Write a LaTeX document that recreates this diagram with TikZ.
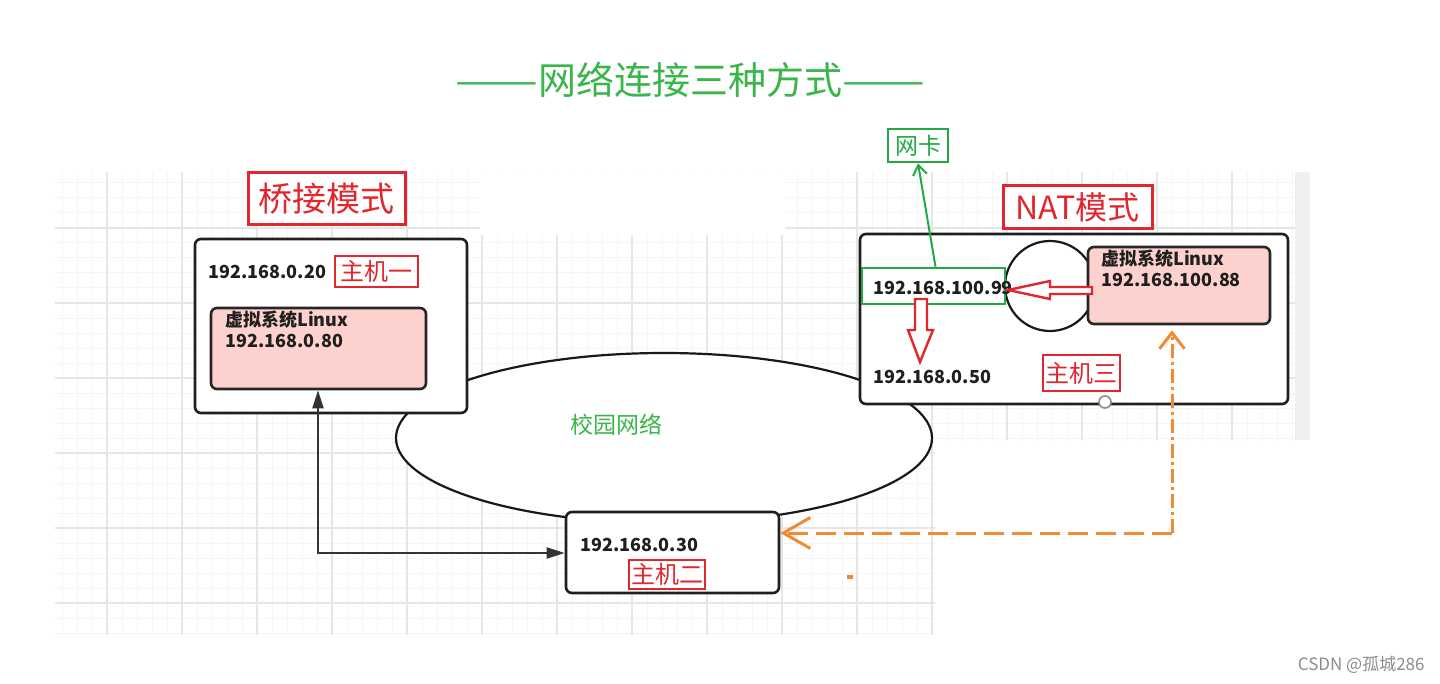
\documentclass[tikz,border=0pt]{standalone}
\usepackage{fontspec}
\setmainfont{Noto Sans CJK SC}
\usetikzlibrary{arrows.meta,shapes.geometric,calc}
\definecolor{tgreen}{HTML}{3AB54A}
\definecolor{bgreen}{HTML}{22A845}
\definecolor{lred}{HTML}{E3262E}
\definecolor{pinkfill}{HTML}{FDD2CE}
\definecolor{orng}{HTML}{F28A33}
\definecolor{gminor}{HTML}{F5F5F5}
\definecolor{gmajor}{HTML}{E6E6E6}
\begin{document}
\begin{tikzpicture}[x=0.5pt,y=-0.5pt,
  redlabel/.style={draw=lred,line width=1pt,text=lred,inner sep=0pt,fill=white,font=\fontsize{12pt}{12pt}\selectfont},
  bigred/.style={draw=lred,line width=1.5pt,text=lred,inner sep=0pt,fill=white},
  greenlabel/.style={draw=bgreen,line width=1.3pt,inner sep=0pt,fill=white},
  hostbox/.style={draw=black!88,line width=1.3pt,rounded corners=3pt,fill=white,inner sep=0pt},
  vmbox/.style={draw=black!85,line width=1.3pt,rounded corners=3pt,fill=pinkfill,inner sep=0pt},
  iptext/.style={font=\bfseries\fontsize{9pt}{10.5pt}\selectfont,text=black!88,inner sep=0pt,anchor=west},
  blackconn/.style={draw=black!80,line width=1pt,{Triangle[length=9pt,width=5.5pt]}-{Triangle[length=9pt,width=5.5pt]}},
  orangeline/.style={draw=orng,line width=1.5pt},
  hollowarrow/.style={draw=lred,line width=1.2pt,fill=white,line join=miter}
]
\useasboundingbox (0,0) rectangle (1440,684);
\fill[white] (0,0) rectangle (1440,684);

% background grid
\begin{scope}
  \clip (55,172) rectangle (935,635) (935,172) rectangle (1295,440);
  \foreach \x in {62,77,...,1292} \draw[gminor,line width=0.5pt] (\x,172) -- (\x,635);
  \foreach \y in {183,198,...,633} \draw[gminor,line width=0.5pt] (55,\y) -- (1295,\y);
  \foreach \x in {107,182,...,1232} \draw[gmajor,line width=0.6pt] (\x,172) -- (\x,635);
  \foreach \y in {228,303,...,603} \draw[gmajor,line width=0.6pt] (55,\y) -- (1295,\y);
\end{scope}
\fill[white] (480,172) rectangle (785,235);
\fill[black!6] (1295,172) rectangle (1310,440);

% title
\node[text=tgreen,font=\fontsize{19pt}{22pt}\selectfont] (title) at (690,80) {\scalebox{1.3}[1]{——}网络连接三种方式\scalebox{1.3}[1]{——}};

% campus network
\node[ellipse,draw=black!90,line width=1.1pt,fill=white,minimum width=268pt,minimum height=85pt,inner sep=0pt] (campus) at (664,438) {};
\node[text=tgreen,font=\fontsize{11.5pt}{13pt}\selectfont,inner sep=0pt] (campuslbl) at (616,425) {校园网络};

% bridge mode
\node[bigred,minimum width=78.5pt,minimum height=26pt,font=\fontsize{17pt}{18pt}\selectfont] (bridgelbl) at (326.5,199) {桥接模式};
\node[hostbox,minimum width=136pt,minimum height=87pt] (host1) at (331,326) {};
\node[iptext] (ip1) at (208,272) {192.168.0.20};
\node[redlabel,minimum width=41.5pt,minimum height=15.5pt] (h1lbl) at (376.5,271.5) {主机一};
\node[vmbox,minimum width=107.5pt,minimum height=40.5pt] (vm1) at (318.5,348.5) {};
\node[iptext] (vm1name) at (225,320) {虚拟系统Linux};
\node[iptext] (vm1ip) at (225,341) {192.168.0.80};

% host two
\node[hostbox,minimum width=106.5pt,minimum height=40.5pt] (host2) at (672.5,552.5) {};
\node[iptext] (ip2) at (580,545) {192.168.0.30};
\node[redlabel,minimum width=38pt,minimum height=14.5pt] (h2lbl) at (667,574.5) {主机二};

% NAT mode
\node[bigred,minimum width=74.5pt,minimum height=21.5pt,font=\fontsize{16pt}{18pt}\selectfont] (natlbl) at (1077.5,207.5) {NAT模式};
\node[hostbox,minimum width=214pt,minimum height=85pt] (host3) at (1074,319) {};
\node[circle,draw=black!90,line width=1.1pt,fill=white,minimum size=45pt,inner sep=0pt] (nat) at (1050,286) {};
\node[greenlabel,minimum width=71.5pt,minimum height=18pt] (nic) at (933.5,286) {};
\node[iptext] (ip3in) at (873,288) {192.168.100.99};
\node[greenlabel,text=bgreen,minimum width=30pt,minimum height=16.5pt,font=\fontsize{11.5pt}{12pt}\selectfont] (nicout) at (918,145.5) {网卡};
\node[iptext] (ip3) at (873,377) {192.168.0.50};
\node[redlabel,minimum width=38.5pt,minimum height=18pt] (h3lbl) at (1081.5,373) {主机三};
\node[vmbox,minimum width=91pt,minimum height=38.5pt] (vm2) at (1179,285.5) {};
\node[iptext] (vm2name) at (1101,259) {虚拟系统Linux};
\node[iptext] (vm2ip) at (1101,280) {192.168.100.88};
\node[circle,draw=black!45,line width=0.8pt,fill=white,minimum size=6pt,inner sep=0pt] (handle) at (1105,402) {};

% hollow red arrows
\draw[hollowarrow] (1092,287) -- (1050,287) -- (1050,281) -- (1008,290) -- (1050,299) -- (1050,294) -- (1092,294) -- cycle;
\draw[hollowarrow] (915,299) -- (927,299) -- (927,330) -- (933,330) -- (920,362) -- (908,330) -- (915,330) -- cycle;

% green connector to network card
\draw[draw=bgreen,line width=1pt,-{Straight Barb[length=5pt,width=7pt]}] ($(nic.north)+(2,0)$) -- (nicout.south);

% black bridge connector
\coordinate (bend) at (318,553);
\draw[blackconn] (bend |- vm1.south) -- (bend) -- (host2.west |- bend);

% orange NAT connector
\coordinate (ocorner) at (1172,533);
\draw[orangeline,dash pattern=on 7pt off 2pt on 1.5pt off 2pt,-{Straight Barb[length=8pt,width=12.5pt]}] (ocorner) -- ($(ocorner |- vm2.south)+(0,5)$);
\draw[orangeline,dash pattern=on 10pt off 4pt,-{Straight Barb[length=13.5pt,width=15.5pt]}] (ocorner) -- (host2.east |- ocorner);
\fill[orng] (847,575) rectangle (853,579);

% watermark
\node[anchor=east,text=black!45,font=\fontsize{8.5pt}{10pt}\selectfont,inner sep=0pt] (wm) at (1425,665) {CSDN @孤城286};
\end{tikzpicture}
\end{document}
